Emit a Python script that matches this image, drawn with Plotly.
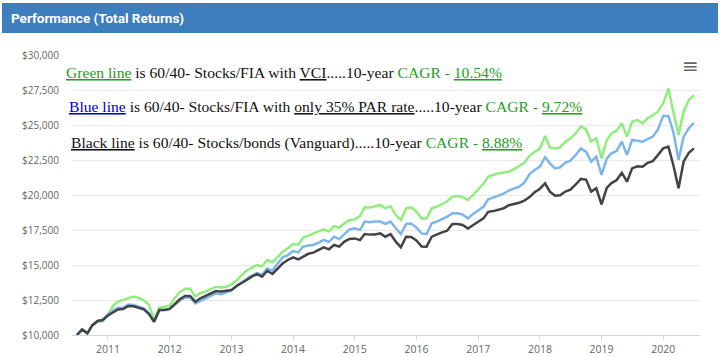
import pandas as pd
import plotly.graph_objects as go

# ---- data (monthly, Jul 2010 - Jul 2020) ----
start_month = "2010-07-01"
n_months = 121

green_vals = [
    10000, 10400, 10120, 10700, 10950, 10980, 11450, 12100, 12380, 12500,
    12620, 12740, 12650, 12480, 12150, 11120, 11950, 12000, 12100, 12650,
    13050, 13300, 13300, 12750, 13000, 13100, 13250, 13450, 13400, 13450,
    13600, 13900, 14250, 14600, 14800, 15000, 14900, 15350, 15200, 15600,
    15950, 16200, 16500, 16450, 16950, 17100, 17250, 17350, 17550, 17400,
    17790, 17650, 17980, 18210, 18250, 18500, 19120, 19100, 19200, 19290,
    19050, 19200, 18570, 18210, 19050, 19120, 18810, 18330, 18330, 19050,
    19170, 19350, 19550, 19880, 19930, 19850, 19640, 20000, 20400, 20800,
    21310, 21450, 21550, 21600, 21670, 21850, 22050, 22300, 22800, 23090,
    23300, 24210, 23400, 23330, 23400, 23800, 24050, 24400, 24880, 24700,
    23810, 24050, 22620, 23930, 24400, 24600, 25120, 24170, 25240, 25360,
    25120, 25480, 25700, 25950, 26550, 27620, 25950, 24290, 25950, 26790,
    27140,
]

blue_vals = [
    10000, 10400, 10120, 10700, 11000, 11100, 11480, 11750, 11950, 11950,
    12170, 12150, 12050, 11900, 11550, 10950, 11780, 11780, 11850, 12150,
    12450, 12680, 12680, 12250, 12450, 12620, 12800, 12980, 12920, 13050,
    13180, 13520, 13750, 14000, 14250, 14420, 14300, 14750, 14600, 15100,
    15550, 15710, 16000, 15900, 16310, 16400, 16430, 16600, 16790, 16650,
    17020, 16850, 17210, 17550, 17620, 17500, 18100, 18050, 18100, 18100,
    17930, 18100, 17620, 17210, 17930, 17960, 17690, 17260, 17200, 17980,
    18100, 18260, 18450, 18690, 18690, 18600, 18330, 18650, 18900, 19150,
    19700, 19800, 19950, 20100, 20320, 20450, 20600, 20880, 21500, 21790,
    22020, 22700, 22260, 21900, 21980, 22310, 22450, 22860, 23330, 23090,
    22380, 22740, 21430, 22600, 22980, 23160, 23810, 22860, 23930, 23880,
    23810, 24000, 24170, 24690, 25640, 25640, 24520, 22500, 24170, 24760,
    25160,
]

black_vals = [
    10000, 10400, 10120, 10700, 11000, 11070, 11400, 11650, 11830, 11850,
    12070, 12050, 11950, 11830, 11500, 10950, 11790, 11790, 11860, 12210,
    12550, 12790, 12790, 12380, 12620, 12790, 12980, 13140, 13100, 13140,
    13210, 13500, 13690, 13930, 14170, 14340, 14170, 14590, 14360, 14760,
    15120, 15360, 15550, 15400, 15600, 15800, 15880, 16070, 16260, 16120,
    16430, 16310, 16670, 16860, 16900, 16780, 17210, 17170, 17180, 17260,
    17020, 17210, 16670, 16260, 17020, 17000, 16760, 16320, 16310, 17020,
    17190, 17330, 17450, 17930, 17930, 17860, 17600, 17860, 18090, 18330,
    18800, 18850, 18930, 19050, 19270, 19340, 19450, 19600, 19850, 20200,
    20450, 20830, 20240, 19950, 19980, 20250, 20380, 20750, 21150, 21100,
    20240, 20480, 19330, 20500, 20850, 21070, 21590, 20950, 21900, 22050,
    22020, 22300, 22420, 22860, 23330, 23450, 22140, 20480, 22380, 23020,
    23330,
]

y_ticks = [10000, 12500, 15000, 17500, 20000, 22500, 25000, 27500, 30000]
y_tick_labels = ["$10,000", "$12,500", "$15,000", "$17,500", "$20,000",
                 "$22,500", "$25,000", "$27,500", "$30,000"]
x_years = [str(y) for y in range(2011, 2021)]

dates = pd.date_range(start_month, periods=n_months, freq="MS")

fig = go.Figure()
for vals, color, name in [
    (green_vals, "#90ed7d", "FIA VCI"),
    (blue_vals, "#7cb5ec", "FIA 35% PAR"),
    (black_vals, "#434348", "Stocks/bonds"),
]:
    fig.add_trace(go.Scatter(x=dates, y=vals, mode="lines", name=name,
                             line=dict(color=color, width=2.5),
                             hoverinfo="skip"))

fig.update_layout(
    width=720, height=357,
    margin=dict(l=72, r=20, t=55, b=22),
    paper_bgcolor="white", plot_bgcolor="white",
    showlegend=False,
    font=dict(family="Open Sans, sans-serif", color="#666666", size=10),
)

fig.update_xaxes(
    range=["2010-06-02", "2020-08-06"],
    tickvals=[pd.Timestamp(f"{y}-01-01") for y in x_years],
    ticktext=x_years,
    showgrid=False, zeroline=False, automargin=False,
    showline=True, linecolor="#ccd6eb", linewidth=1,
    ticks="outside", ticklen=4, tickcolor="#ccd6eb",
    tickfont=dict(size=10.5, color="#666666"),
)
fig.update_yaxes(
    range=[10000, 30000],
    tickvals=y_ticks, ticktext=y_tick_labels,
    showgrid=True, gridcolor="#e9e9e9", gridwidth=1,
    zeroline=False, showline=False, automargin=False,
    ticklabelstandoff=12,
    tickfont=dict(size=10, color="#666666"),
)

def px_x(p):
    return (p - 72) / 628.0

def px_y(p):
    return (335 - p) / 280.0

# header bar
fig.add_shape(type="rect", xref="paper", yref="paper",
              x0=px_x(2), x1=px_x(718), y0=px_y(33), y1=px_y(3),
              fillcolor="#3d7ebf", line=dict(width=0), layer="below")
fig.add_annotation(xref="paper", yref="paper", x=px_x(9), y=px_y(18),
                   xanchor="left", yanchor="middle", showarrow=False,
                   text="<b>Performance (Total Returns)</b>",
                   font=dict(family="Roboto, sans-serif", size=13.5, color="white"))

# menu icon
fig.add_annotation(xref="paper", yref="paper", x=px_x(690), y=px_y(66),
                   xanchor="center", yanchor="middle", showarrow=False,
                   text="≡", font=dict(family="DejaVu Sans", size=20, color="#666666"))

G = "#22a022"
B = "#0000cc"
K = "#111111"
serif = "Liberation Serif, serif"
lines = [
    (64, 72, f'<span style="color:{G}"><u>Green line</u></span>'
             f'<span style="color:{K}"> is 60/40- Stocks/FIA with <u>VCI</u>.....10-year </span>'
             f'<span style="color:{G}">CAGR - <u>10.54%</u></span>'),
    (67, 106, f'<span style="color:{B}"><u>Blue line</u></span>'
              f'<span style="color:{K}"> is 60/40- Stocks/FIA with <u>only 35% PAR rate</u>.....10-year </span>'
              f'<span style="color:{G}">CAGR - <u>9.72%</u></span>'),
    (69, 143, f'<span style="color:{K}"><u>Black line</u> is 60/40- Stocks/bonds (Vanguard).....10-year </span>'
              f'<span style="color:{G}">CAGR - <u>8.88%</u></span>'),
]
for lx, ly, txt in lines:
    fig.add_annotation(xref="paper", yref="paper", x=px_x(lx), y=px_y(ly),
                       xanchor="left", yanchor="middle", showarrow=False,
                       text=txt, font=dict(family=serif, size=15.6, color=K))

fig.write_html("out.html", config={"displayModeBar": False},
               post_script="document.body.style.margin='0px';")
